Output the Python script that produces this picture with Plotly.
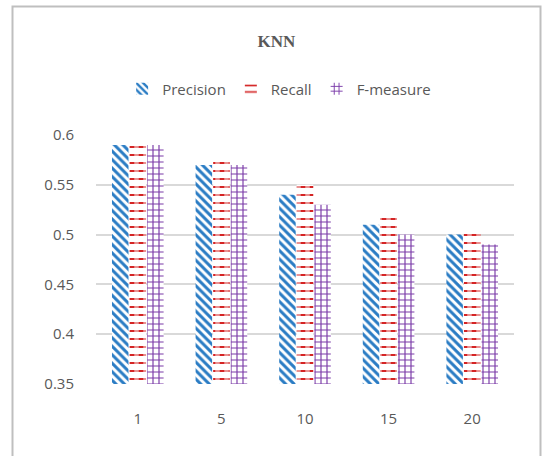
import plotly.graph_objects as go

# K values and scores per metric
k_values = ["1", "5", "10", "15", "20"]
precision = [0.59, 0.57, 0.54, 0.51, 0.50]
recall = [0.59, 0.575, 0.55, 0.52, 0.505]
f_measure = [0.59, 0.57, 0.53, 0.50, 0.49]
y_ticks = [0.35, 0.4, 0.45, 0.5, 0.55, 0.6]
y_tick_text = ["0.35", "0.4", "0.45", "0.5", "0.55", "0.6"]

BLUE = "#2a7cc4"
RED = "#d42424"
PURPLE = "#7a3aa8"
TEXT = "#595959"
FONT = "'Open Sans', 'Noto Sans', sans-serif"

W, H = 542, 456
L, R, T, B = 96, 28, 135, 72

fig = go.Figure()

fig.add_trace(go.Bar(
    name="Precision", x=k_values, y=precision, offsetgroup="p",
    marker=dict(color="white", line=dict(width=0),
                pattern=dict(shape="\\", fgcolor=BLUE, bgcolor="white",
                             size=6, solidity=0.5, fillmode="replace")),
))
fig.add_trace(go.Bar(
    name="Recall", x=k_values, y=recall, offsetgroup="r",
    marker=dict(color="white", line=dict(width=0),
                pattern=dict(shape="-", fgcolor=RED, bgcolor="white",
                             size=8, solidity=0.25, fillmode="replace")),
))
# white vertical breaks turning the red lines into dashes
fig.add_trace(go.Bar(
    name="Recall", x=k_values, y=recall, offsetgroup="r", showlegend=False,
    hoverinfo="skip",
    marker=dict(color="rgba(0,0,0,0)", line=dict(width=0),
                pattern=dict(shape="|", fgcolor="white", bgcolor="rgba(0,0,0,0)",
                             size=9, solidity=0.5, fillmode="overlay")),
))
fig.add_trace(go.Bar(
    name="F-measure", x=k_values, y=f_measure, offsetgroup="f",
    marker=dict(color="white", line=dict(width=0),
                pattern=dict(shape="+", fgcolor=PURPLE, bgcolor="white",
                             size=6, solidity=0.35, fillmode="replace")),
))

# outer chart frame
fig.add_shape(
    type="rect", xref="paper", yref="paper",
    x0=(12.5 - L) / (W - L - R), x1=(540.5 - L) / (W - L - R),
    y0=-1.0, y1=(H - B - 6.5) / (H - T - B),
    line=dict(color="#bfbfbf", width=2), fillcolor="rgba(0,0,0,0)", layer="below",
)

fig.update_layout(
    width=W, height=H,
    margin=dict(l=L, r=R, t=T, b=B),
    paper_bgcolor="white", plot_bgcolor="white",
    barmode="group", bargap=0.37, bargroupgap=0.06,
    font=dict(family=FONT, size=15, color=TEXT),
    title=dict(text="<b>KNN</b>", x=0.51, xref="container", xanchor="center",
               y=1 - 41 / H, yref="container", yanchor="middle",
               font=dict(family="'Liberation Serif', 'Times New Roman', serif",
                         size=17, color=TEXT)),
    legend=dict(orientation="h", xref="container", yref="container",
                x=0.515, xanchor="center", y=1 - 89 / H, yanchor="middle",
                font=dict(family=FONT, size=15, color=TEXT),
                itemwidth=30, traceorder="normal"),
    showlegend=True,
)
fig.update_xaxes(showgrid=False, showline=False, ticks="", ticklabelstandoff=24,
                 tickfont=dict(size=15, color=TEXT))
fig.update_yaxes(range=[0.35, 0.6], tickvals=y_ticks, ticktext=y_tick_text,
                 showgrid=True, gridcolor="#d9d9d9", gridwidth=1.5,
                 zeroline=False, showline=False, ticks="", ticklabelstandoff=21,
                 tickfont=dict(size=15, color=TEXT))

fig.write_html("out.html")
